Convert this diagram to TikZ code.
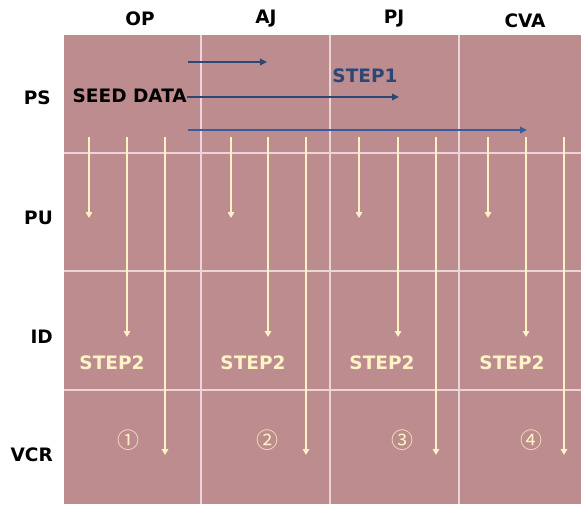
\documentclass[tikz,border=0pt]{standalone}
\usepackage{fontspec}
\setmainfont{DejaVu Sans}
\newfontfamily\cjkfont{Noto Sans CJK KR}
\usetikzlibrary{arrows.meta}
\definecolor{bgrose}{HTML}{BC8C8E}
\definecolor{gridln}{HTML}{EAD6D8}
\definecolor{cream}{HTML}{FFF2C4}
\definecolor{navyA}{HTML}{2C4675}
\definecolor{navyB}{HTML}{3A5C9E}
\begin{document}
\begin{tikzpicture}[x=1pt,y=-1pt,
  lblfont/.style={font=\bfseries\fontsize{18.5}{21}\selectfont, inner sep=0pt},
  hdr/.style={lblfont, text=black},
  rowlbl/.style={lblfont, text=black, anchor=east},
  seedlbl/.style={lblfont, text=black, anchor=east},
  steponelbl/.style={lblfont, text=navyA},
  steptwolbl/.style={lblfont, text=cream},
  circnum/.style={font=\cjkfont\fontsize{22}{25}\selectfont, text=cream, inner sep=0pt},
  gridline/.style={draw=gridln, line width=1.3pt},
  bluearrow/.style={draw=navyA, line width=2.2pt, -{Triangle[length=7pt,width=6.5pt]}},
  bluearrowlight/.style={draw=navyB, line width=2.2pt, -{Triangle[length=7pt,width=6.5pt]}},
  creamarrow/.style={draw=cream, line width=2.2pt, -{Triangle[length=6pt,width=6.5pt]}}
]
\useasboundingbox (0,0) rectangle (581,504);
\fill[bgrose] (64,35) rectangle (581,504);
% grid
\foreach \gx in {201,330,459} \draw[gridline] (\gx,35) -- (\gx,504);
\foreach \gy in {153,271,390} \draw[gridline] (64,\gy) -- (581,\gy);
% headers
\node[hdr] (hOP) at (140,19) {OP};
\node[hdr] (hAJ) at (266,19) {AJ};
\node[hdr] (hPJ) at (394,19) {PJ};
\node[hdr] (hCVA) at (525,21) {CVA};
% row labels
\node[rowlbl] (rPS) at (51,98) {PS};
\node[rowlbl] (rPU) at (53,218) {PU};
\node[rowlbl] (rID) at (53,337) {ID};
\node[rowlbl] (rVCR) at (53,455) {VCR};
% seed data and step1
\node[seedlbl] (seed) at (187,96) {SEED DATA};
\node[steponelbl] (step1) at (365,76) {STEP1};
\coordinate (b1s) at (188,62);  \coordinate (b1e) at (267,62);
\coordinate (b3s) at (188,130); \coordinate (b3e) at (527,130);
\coordinate (b2e) at (399,97);
\draw[bluearrow] (b1s) -- (b1e);
\draw[bluearrow] (seed.east |- b2e) -- (b2e);
\draw[bluearrowlight] (b3s) -- (b3e);
% cream arrows
\foreach \cx/\name in {89/a,231/b,359/c,488/d}
  {\coordinate (s1\name) at (\cx,137); \coordinate (e1\name) at (\cx,218); \draw[creamarrow] (s1\name) -- (e1\name);}
\foreach \cx/\name in {127/a,268/b,398/c,526/d}
  {\coordinate (s2\name) at (\cx,137); \coordinate (e2\name) at (\cx,337); \draw[creamarrow] (s2\name) -- (e2\name);}
\foreach \cx/\name in {165/a,306/b,436/c,564/d}
  {\coordinate (s3\name) at (\cx,137); \coordinate (e3\name) at (\cx,455); \draw[creamarrow] (s3\name) -- (e3\name);}
% step2 labels
\node[steptwolbl] (st2a) at (112,363) {STEP2};
\node[steptwolbl] (st2b) at (253,363) {STEP2};
\node[steptwolbl] (st2c) at (382,363) {STEP2};
\node[steptwolbl] (st2d) at (512,363) {STEP2};
% circled numbers
\node[circnum] (n1) at (128,440) {①};
\node[circnum] (n2) at (267,440) {②};
\node[circnum] (n3) at (402,440) {③};
\node[circnum] (n4) at (531,440) {④};
\end{tikzpicture}
\end{document}
